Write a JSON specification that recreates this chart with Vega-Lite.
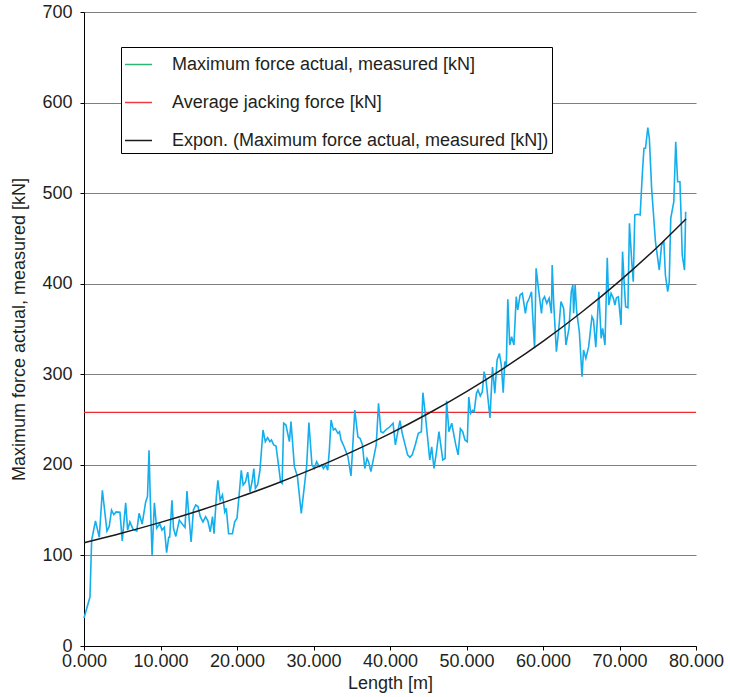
{
  "$schema": "https://vega.github.io/schema/vega-lite/v6.json",
  "width": 612,
  "height": 634,
  "autosize": {"type": "none"},
  "padding": {"left": 84, "top": 12, "right": 34, "bottom": 51},
  "background": "white",
  "config": {
    "view": {"stroke": null},
    "font": "Liberation Sans",
    "axis": {
      "labelFont": "Liberation Sans",
      "titleFont": "Liberation Sans",
      "labelFontSize": 18,
      "titleFontSize": 18,
      "titleFontWeight": "normal",
      "labelColor": "#231f20",
      "titleColor": "#231f20",
      "domainColor": "#000000",
      "domainWidth": 1,
      "tickColor": "#000000",
      "tickSize": 4,
      "labelFlush": false,
      "labelOverlap": false
    },
    "legend": {
      "labelFont": "Liberation Sans"
    }
  },
  "datasets": {
    "measured": [
      {"length": 0, "force": 31}, {"length": 0.78, "force": 54}, {"length": 1.0, "force": 117}, {"length": 1.5, "force": 138},
      {"length": 2.0, "force": 120}, {"length": 2.4, "force": 172}, {"length": 3.0, "force": 127}, {"length": 3.3, "force": 132},
      {"length": 3.6, "force": 150}, {"length": 3.9, "force": 145}, {"length": 4.2, "force": 148}, {"length": 4.7, "force": 147.6},
      {"length": 5.0, "force": 116}, {"length": 5.45, "force": 158}, {"length": 5.7, "force": 128}, {"length": 6.0, "force": 137},
      {"length": 6.4, "force": 129}, {"length": 6.9, "force": 127}, {"length": 7.2, "force": 146.5}, {"length": 7.6, "force": 134.7},
      {"length": 8.06, "force": 159}, {"length": 8.3, "force": 165}, {"length": 8.5, "force": 216}, {"length": 8.67, "force": 161},
      {"length": 8.9, "force": 100}, {"length": 9.2, "force": 158}, {"length": 9.5, "force": 130}, {"length": 9.9, "force": 135},
      {"length": 10.2, "force": 128}, {"length": 10.5, "force": 131}, {"length": 10.8, "force": 103}, {"length": 11.07, "force": 120},
      {"length": 11.2, "force": 120}, {"length": 11.5, "force": 161}, {"length": 11.7, "force": 130}, {"length": 12.0, "force": 121},
      {"length": 12.46, "force": 139}, {"length": 12.94, "force": 133.6}, {"length": 13.2, "force": 131}, {"length": 13.46, "force": 171},
      {"length": 13.7, "force": 144.6}, {"length": 14.0, "force": 115}, {"length": 14.3, "force": 150}, {"length": 14.6, "force": 155.7},
      {"length": 14.9, "force": 154}, {"length": 15.2, "force": 142.8}, {"length": 15.55, "force": 137}, {"length": 15.9, "force": 142.8},
      {"length": 16.2, "force": 138}, {"length": 16.5, "force": 126}, {"length": 16.8, "force": 142.8}, {"length": 17.0, "force": 124},
      {"length": 17.3, "force": 165}, {"length": 17.5, "force": 183}, {"length": 17.8, "force": 161}, {"length": 18.1, "force": 166.7},
      {"length": 18.4, "force": 148}, {"length": 18.6, "force": 152}, {"length": 18.9, "force": 124}, {"length": 19.4, "force": 124},
      {"length": 19.7, "force": 137}, {"length": 20.0, "force": 141}, {"length": 20.26, "force": 165}, {"length": 20.56, "force": 194},
      {"length": 20.8, "force": 177.8}, {"length": 21.1, "force": 181}, {"length": 21.4, "force": 192}, {"length": 21.7, "force": 170},
      {"length": 22.0, "force": 183}, {"length": 22.2, "force": 196}, {"length": 22.4, "force": 174}, {"length": 22.7, "force": 178},
      {"length": 23.0, "force": 194}, {"length": 23.4, "force": 238.5}, {"length": 23.7, "force": 225.6}, {"length": 24.0, "force": 230},
      {"length": 24.3, "force": 225.6}, {"length": 24.5, "force": 227.5}, {"length": 24.8, "force": 222}, {"length": 25.1, "force": 220.8},
      {"length": 25.45, "force": 198}, {"length": 25.7, "force": 181}, {"length": 25.9, "force": 179.6}, {"length": 26.1, "force": 246},
      {"length": 26.4, "force": 244}, {"length": 26.85, "force": 225.6}, {"length": 27.06, "force": 247.7}, {"length": 27.5, "force": 198},
      {"length": 27.9, "force": 187}, {"length": 28.4, "force": 146.5}, {"length": 28.8, "force": 176}, {"length": 29.1, "force": 198},
      {"length": 29.4, "force": 246.6}, {"length": 29.8, "force": 199.8}, {"length": 30.1, "force": 196}, {"length": 30.4, "force": 203.5},
      {"length": 30.76, "force": 198}, {"length": 31.06, "force": 199.8}, {"length": 31.3, "force": 196}, {"length": 31.6, "force": 199.8},
      {"length": 31.86, "force": 194}, {"length": 32.07, "force": 216}, {"length": 32.3, "force": 249.5}, {"length": 32.6, "force": 238.5},
      {"length": 32.85, "force": 240}, {"length": 33.2, "force": 234.8}, {"length": 33.4, "force": 236.6}, {"length": 33.6, "force": 227.5},
      {"length": 34.0, "force": 220}, {"length": 34.5, "force": 209}, {"length": 34.9, "force": 187.7}, {"length": 35.1, "force": 216},
      {"length": 35.4, "force": 260.6}, {"length": 35.8, "force": 231}, {"length": 36.1, "force": 229}, {"length": 36.4, "force": 222},
      {"length": 36.7, "force": 196}, {"length": 37.0, "force": 207}, {"length": 37.2, "force": 203.5}, {"length": 37.5, "force": 192.5},
      {"length": 37.8, "force": 205}, {"length": 38.2, "force": 222}, {"length": 38.5, "force": 268}, {"length": 38.8, "force": 236.6},
      {"length": 39.1, "force": 235.5}, {"length": 39.5, "force": 239}, {"length": 39.9, "force": 241.5}, {"length": 40.4, "force": 245.9},
      {"length": 40.7, "force": 222}, {"length": 41.3, "force": 248.8}, {"length": 41.6, "force": 234.8}, {"length": 42.3, "force": 211},
      {"length": 42.6, "force": 208.3}, {"length": 42.9, "force": 211}, {"length": 43.3, "force": 222}, {"length": 43.7, "force": 234.8},
      {"length": 44.1, "force": 236.6}, {"length": 44.3, "force": 279.7}, {"length": 44.6, "force": 256.9}, {"length": 44.9, "force": 231},
      {"length": 45.2, "force": 205.4}, {"length": 45.45, "force": 220}, {"length": 45.75, "force": 196}, {"length": 46.05, "force": 212.8},
      {"length": 46.4, "force": 236.6}, {"length": 46.7, "force": 218}, {"length": 46.9, "force": 205.4}, {"length": 47.2, "force": 207},
      {"length": 47.4, "force": 270.8}, {"length": 47.7, "force": 236.6}, {"length": 48.07, "force": 246}, {"length": 48.4, "force": 231},
      {"length": 48.6, "force": 222}, {"length": 48.9, "force": 211}, {"length": 49.2, "force": 240}, {"length": 49.5, "force": 236.6},
      {"length": 49.8, "force": 227.5}, {"length": 50.1, "force": 225.6}, {"length": 50.3, "force": 275}, {"length": 50.55, "force": 257},
      {"length": 50.8, "force": 260}, {"length": 51.0, "force": 258.7}, {"length": 51.3, "force": 279}, {"length": 51.5, "force": 282.6},
      {"length": 51.8, "force": 276}, {"length": 52.07, "force": 280.8}, {"length": 52.3, "force": 302.9}, {"length": 52.55, "force": 293.7},
      {"length": 53.07, "force": 251.7}, {"length": 53.4, "force": 308}, {"length": 53.7, "force": 279}, {"length": 54.0, "force": 315.8},
      {"length": 54.3, "force": 323}, {"length": 54.55, "force": 310}, {"length": 54.8, "force": 279.7}, {"length": 55.0, "force": 314},
      {"length": 55.2, "force": 308.4}, {"length": 55.4, "force": 382.8}, {"length": 55.65, "force": 332.3}, {"length": 55.9, "force": 341.5},
      {"length": 56.2, "force": 332.3}, {"length": 56.5, "force": 385.7}, {"length": 56.7, "force": 371}, {"length": 57.0, "force": 387.5},
      {"length": 57.3, "force": 389.4}, {"length": 57.7, "force": 367.3}, {"length": 57.9, "force": 378.4}, {"length": 58.2, "force": 383.9},
      {"length": 58.5, "force": 391.2}, {"length": 58.65, "force": 365.5}, {"length": 58.9, "force": 328.7}, {"length": 59.1, "force": 417},
      {"length": 59.4, "force": 394.9}, {"length": 59.8, "force": 367.3}, {"length": 59.96, "force": 382}, {"length": 60.2, "force": 385.7},
      {"length": 60.5, "force": 378.4}, {"length": 60.8, "force": 383.9}, {"length": 61.1, "force": 367.3}, {"length": 61.2, "force": 420.7},
      {"length": 61.4, "force": 378.4}, {"length": 61.75, "force": 325}, {"length": 62.05, "force": 348.9}, {"length": 62.35, "force": 380.2},
      {"length": 62.7, "force": 372.8}, {"length": 63.0, "force": 332.3}, {"length": 63.4, "force": 350.8}, {"length": 63.7, "force": 391.2},
      {"length": 63.9, "force": 398.6}, {"length": 64.0, "force": 367.3}, {"length": 64.2, "force": 398.6}, {"length": 64.4, "force": 369.1},
      {"length": 64.75, "force": 347}, {"length": 65.1, "force": 297.3}, {"length": 65.3, "force": 326.8}, {"length": 65.6, "force": 317.6},
      {"length": 65.97, "force": 330.5}, {"length": 66.4, "force": 363.6}, {"length": 66.6, "force": 360}, {"length": 66.9, "force": 330},
      {"length": 67.3, "force": 391.2}, {"length": 67.6, "force": 339.7}, {"length": 67.8, "force": 350.8}, {"length": 68.1, "force": 332.3},
      {"length": 68.4, "force": 428.7}, {"length": 68.6, "force": 376.5}, {"length": 68.9, "force": 389.4}, {"length": 69.2, "force": 383.9},
      {"length": 69.4, "force": 376.5}, {"length": 69.6, "force": 384.6}, {"length": 69.85, "force": 385.7}, {"length": 70.2, "force": 354.4},
      {"length": 70.4, "force": 435.4}, {"length": 70.6, "force": 402.2}, {"length": 70.8, "force": 374.6}, {"length": 71.1, "force": 373.5},
      {"length": 71.3, "force": 466.7}, {"length": 71.6, "force": 424.3}, {"length": 71.8, "force": 402.2}, {"length": 72.0, "force": 475.9},
      {"length": 72.4, "force": 476.6}, {"length": 72.7, "force": 475.9}, {"length": 73.0, "force": 523.7}, {"length": 73.2, "force": 549.5},
      {"length": 73.4, "force": 549.5}, {"length": 73.7, "force": 572.3}, {"length": 73.9, "force": 560.5}, {"length": 74.2, "force": 505.3},
      {"length": 74.7, "force": 446.4}, {"length": 75.2, "force": 415.1}, {"length": 75.5, "force": 442.7}, {"length": 75.8, "force": 446.4},
      {"length": 76.0, "force": 409.6}, {"length": 76.3, "force": 391.2}, {"length": 76.5, "force": 402.2}, {"length": 76.7, "force": 472.2},
      {"length": 77.1, "force": 490.6}, {"length": 77.35, "force": 556.8}, {"length": 77.6, "force": 512.6}, {"length": 77.9, "force": 512.6},
      {"length": 78.1, "force": 461.2}, {"length": 78.2, "force": 431.7}, {"length": 78.5, "force": 415.1}, {"length": 78.65, "force": 479.5}
    ],
    "trend": [
      {"length": 0, "force": 114}, {"length": 5, "force": 124.8}, {"length": 10, "force": 136.5}, {"length": 15, "force": 149.4},
      {"length": 20, "force": 163.5}, {"length": 25, "force": 178.9}, {"length": 30, "force": 195.8}, {"length": 35, "force": 214.3},
      {"length": 40, "force": 234.5}, {"length": 45, "force": 256.7}, {"length": 50, "force": 280.9}, {"length": 55, "force": 307.4},
      {"length": 60, "force": 336.4}, {"length": 65, "force": 368.2}, {"length": 70, "force": 402.9}, {"length": 75, "force": 440.9},
      {"length": 78.7, "force": 471.5}
    ],
    "average": [{"force": 258}],
    "legend": [
      {"series": "Maximum force actual, measured [kN]", "length": 40, "force": 700},
      {"series": "Average jacking force [kN]", "length": 40, "force": 700},
      {"series": "Expon. (Maximum force actual, measured [kN])", "length": 40, "force": 700}
    ]
  },
  "encoding": {
    "x": {
      "field": "length",
      "type": "quantitative",
      "scale": {"domain": [0, 80], "nice": false, "zero": true},
      "axis": {
        "title": "Length [m]",
        "values": [0, 10, 20, 30, 40, 50, 60, 70, 80],
        "format": ".3f",
        "grid": false,
        "labelPadding": 2,
        "titlePadding": 4
      }
    },
    "y": {
      "field": "force",
      "type": "quantitative",
      "scale": {"domain": [0, 700], "nice": false},
      "axis": {
        "title": "Maximum force actual, measured [kN]",
        "values": [0, 100, 200, 300, 400, 500, 600, 700],
        "grid": true,
        "gridColor": "#7f7f7f",
        "gridWidth": 1,
        "gridOpacity": 1,
        "labelPadding": 8,
        "titlePadding": 13
      }
    }
  },
  "layer": [
    {
      "data": {"name": "average"},
      "mark": {"type": "rule", "color": "#ee2a2e", "strokeWidth": 1.3},
      "encoding": {"x": null}
    },
    {
      "data": {"name": "measured"},
      "mark": {"type": "line", "color": "#14aeec", "strokeWidth": 1.6}
    },
    {
      "data": {"name": "trend"},
      "mark": {"type": "line", "color": "#1a1a1a", "strokeWidth": 1.5, "interpolate": "monotone"}
    },
    {
      "data": {"name": "legend"},
      "mark": {"type": "line", "strokeWidth": 1.5},
      "encoding": {
        "color": {
          "field": "series",
          "type": "nominal",
          "sort": null,
          "scale": {
            "domain": ["Maximum force actual, measured [kN]", "Average jacking force [kN]", "Expon. (Maximum force actual, measured [kN])"],
            "range": ["#2bb673", "#ee3a43", "#1a1a1a"]
          },
          "legend": {
            "title": null,
            "orient": "none",
            "legendX": 37,
            "legendY": 35,
            "direction": "vertical",
            "strokeColor": "#000000",
            "fillColor": "#ffffff",
            "padding": 3,
            "rowPadding": 14,
            "labelFontSize": 18,
            "labelColor": "#231f20",
            "labelLimit": 600,
            "labelOffset": 19,
            "symbolType": "stroke",
            "symbolSize": 729,
            "symbolStrokeWidth": 1.5
          }
        }
      }
    }
  ]
}
